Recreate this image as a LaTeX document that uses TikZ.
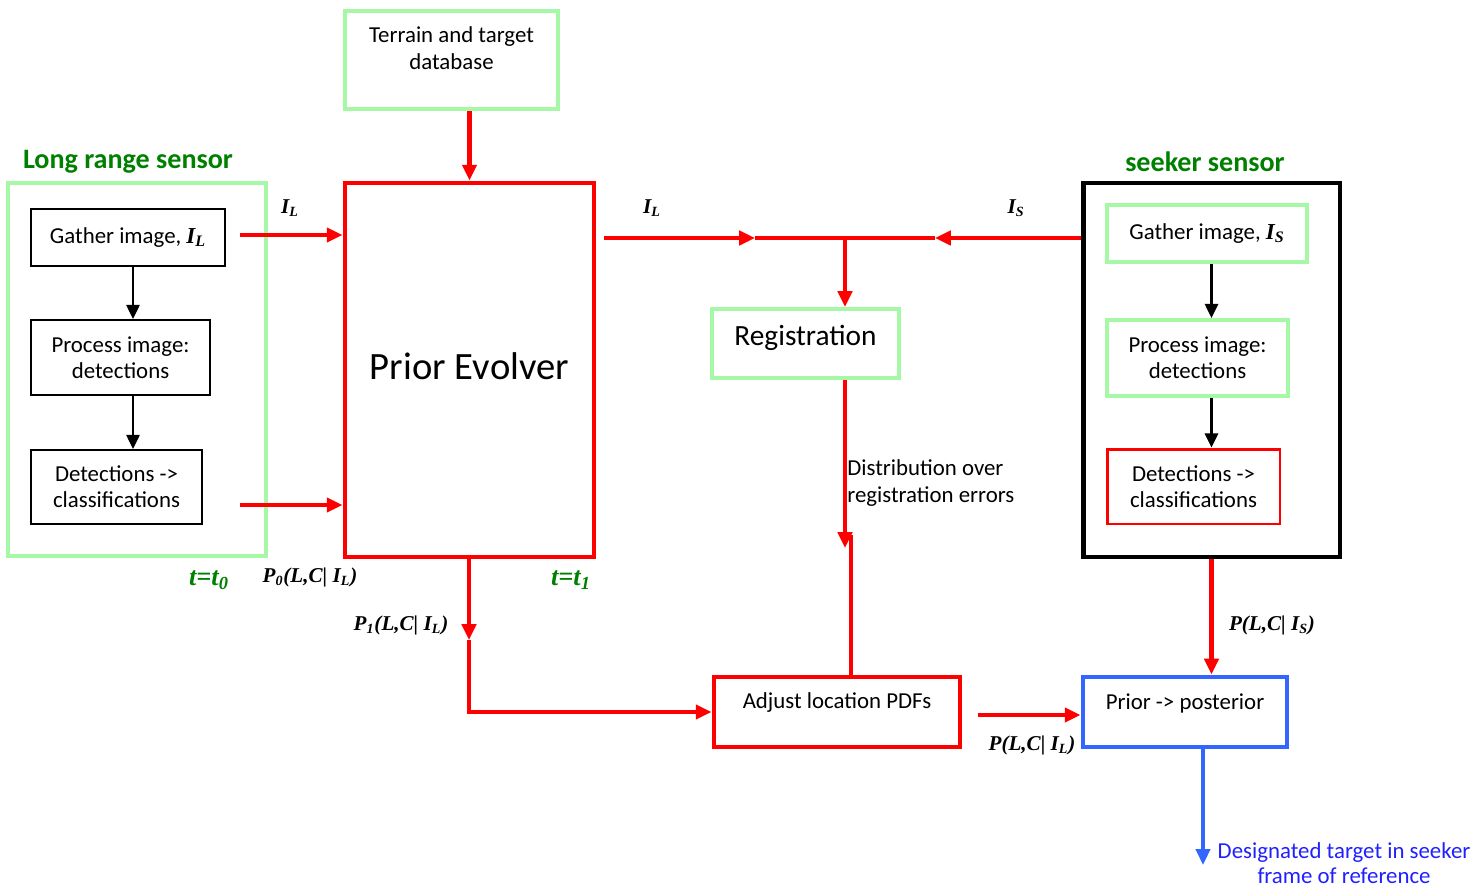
\documentclass[tikz,border=0pt]{standalone}
\usepackage{fontspec}
\setmainfont{Carlito}
\newfontfamily\labfont{Liberation Serif}
\usetikzlibrary{arrows.meta}

\definecolor{boxgreen}{HTML}{A6F7A6}
\definecolor{titlegreen}{HTML}{008000}
\definecolor{boxblue}{HTML}{3366FF}
\definecolor{textblue}{HTML}{2020FF}

\newcommand{\lab}[1]{{\labfont\bfseries\itshape #1}}

\tikzset{
  box/.style={draw, rectangle, inner sep=0pt, align=center, font=\fontsize{13}{15}\selectfont},
  greenbox/.style={box, draw=boxgreen, line width=2.3pt},
  blackbox/.style={box, draw=black, line width=1.2pt},
  redbox/.style={box, draw=red, line width=2.8pt},
  bluebox/.style={box, draw=boxblue, line width=2.8pt},
  redarrow/.style={draw=red, line width=2.3pt, -{Triangle[length=9pt,width=8pt]}},
  redline/.style={draw=red, line width=2.3pt},
  blackarrow/.style={line width=1.3pt, -{Triangle[length=8pt,width=7.5pt]}},
  bluearrow/.style={draw=boxblue, line width=2pt, -{Triangle[length=9pt,width=8pt]}},
  maths/.style={font=\labfont\bfseries\itshape\fontsize{12}{14}\selectfont, inner sep=0pt},
  timelab/.style={maths, text=titlegreen, font=\labfont\bfseries\itshape\fontsize{15}{17}\selectfont},
  sensortitle/.style={font=\bfseries\fontsize{16}{19}\selectfont, text=titlegreen, inner sep=0pt},
  plain/.style={inner sep=0pt, align=center, font=\fontsize{13}{15}\selectfont}
}

\begin{document}
\begin{tikzpicture}[x=0.02cm, y=-0.02cm]
  \useasboundingbox (0,0) rectangle (1480,889);

  % terrain database
  \node[greenbox, minimum width=4.26cm, minimum height=1.96cm] (terrain) at (451.5,60) {};
  \node[plain] (terraintext) at (451.5,48) {Terrain and target\\database};

  % long range sensor
  \node[sensortitle] (lrstitle) at (128,162) {Long range sensor};
  \node[greenbox, minimum width=5.16cm, minimum height=7.46cm] (lrs) at (137,369.5) {};
  \node[blackbox, minimum width=3.88cm, minimum height=1.14cm] (gatherL) at (128,237.5) {Gather image, \lab{I\textsubscript{L}}};
  \node[blackbox, minimum width=3.58cm, minimum height=1.5cm] (procL) at (120.5,357.5) {Process image:\\detections};
  \node[blackbox, minimum width=3.42cm, minimum height=1.48cm] (detL) at (116.5,487) {Detections ->\\classifications};
  \draw[blackarrow] ([xshift=-0.08cm]gatherL.south -| lrs) -- ([xshift=-0.08cm]procL.north -| lrs);
  \draw[blackarrow] ([xshift=-0.08cm]procL.south -| lrs) -- ([xshift=-0.08cm]detL.north -| lrs);

  % prior evolver
  \node[redbox, minimum width=4.98cm, minimum height=7.48cm, text depth=5pt, font=\fontsize{22}{26}\selectfont] (prior) at (469.5,370) {Prior Evolver};
  \draw[redarrow] (terrain.south -| prior) -- (prior.north);
  \coordinate (iLin) at (240,235);
  \coordinate (p0in) at (240,505);
  \draw[redarrow] (iLin) -- (iLin -| prior.west);
  \draw[redarrow] (p0in) -- (p0in -| prior.west);

  \node[maths] (iL1) at (290,208) {I\textsubscript{L}};
  \node[timelab] (t0) at (209,580) {t=t\textsubscript{0}};
  \node[maths] (p0) at (310,577) {P\textsubscript{0}(L,C| I\textsubscript{L})};
  \node[timelab] (t1) at (571,580) {t=t\textsubscript{1}};
  \node[maths] (p1) at (401,625) {P\textsubscript{1}(L,C| I\textsubscript{L})};

  % registration
  \node[greenbox, minimum width=3.74cm, minimum height=1.38cm, text depth=9.5pt, font=\fontsize{16.7}{19}\selectfont] (reg) at (805.5,343.5) {Registration};
  \coordinate (iLout) at (604,238);
  \coordinate (tipR) at (755,238);
  \coordinate (junc) at (845,238);
  \coordinate (tipL) at (935,238);
  \node[maths] (iL2) at (652,208) {I\textsubscript{L}};
  \node[maths] (iS) at (1016,208) {I\textsubscript{S}};

  % adjust location
  \node[redbox, minimum width=4.92cm, minimum height=1.4cm, text depth=13pt] (adjust) at (837,712) {Adjust location PDFs};
  \coordinate (p1tip) at (469,640);
  \draw[redarrow] (prior.south -| p1tip) -- (p1tip);
  \draw[redarrow] (p1tip) |- (adjust.west);

  \coordinate (regtip) at (845,548);
  \coordinate (regjoin) at (851,535);
  \draw[redarrow] (reg.south -| regtip) -- (regtip);
  \draw[redline] (regjoin) -- (regjoin |- adjust.north);
  \node[plain, anchor=west, align=left] (regerr) at (847,483) {Distribution over\\registration errors};

  % seeker sensor
  \node[sensortitle] (seektitle) at (1205,162) {seeker sensor};
  \node[box, line width=2.8pt, minimum width=5.14cm, minimum height=7.48cm] (seeker) at (1211.5,370) {};
  \node[greenbox, minimum width=4.0cm, minimum height=1.14cm] (gatherS) at (1207,233.5) {Gather image, \lab{I\textsubscript{S}}};
  \node[greenbox, minimum width=3.62cm, minimum height=1.52cm] (procS) at (1197.5,358) {Process image:\\detections};
  \node[box, draw=red, line width=1.7pt, minimum width=3.46cm, minimum height=1.5cm] (detS) at (1193.5,486.5) {Detections ->\\classifications};
  \draw[blackarrow] (gatherS.south -| seeker) -- (procS.north -| seeker);
  \draw[blackarrow] (procS.south -| seeker) -- (detS.north -| seeker);

  \draw[redarrow] (iLout) -- (tipR);
  \draw[redline] (tipR) -- (tipL);
  \draw[redarrow] (seeker.west |- junc) -- (tipL);
  \draw[redarrow] (junc) -- (junc |- reg.north);

  % prior -> posterior
  \node[bluebox, minimum width=4.08cm, minimum height=1.4cm, text depth=12pt] (post) at (1185,712) {Prior -> posterior};
  \coordinate (pLin) at (978,715);
  \draw[redarrow] (pLin) -- (pLin -| post.west);
  \node[maths] (plcil) at (1032,745) {P(L,C| I\textsubscript{L})};
  \draw[redarrow] (seeker.south) -- (seeker.south |- post.north);
  \node[maths] (plcis) at (1272,625) {P(L,C| I\textsubscript{S})};

  \coordinate (target) at (1203,865);
  \draw[bluearrow] (post.south -| target) -- (target);
  \node[plain, text=textblue, font=\fontsize{13}{14.5}\selectfont] (targettext) at (1344,863) {Designated target in seeker\\frame of reference};
\end{tikzpicture}
\end{document}
